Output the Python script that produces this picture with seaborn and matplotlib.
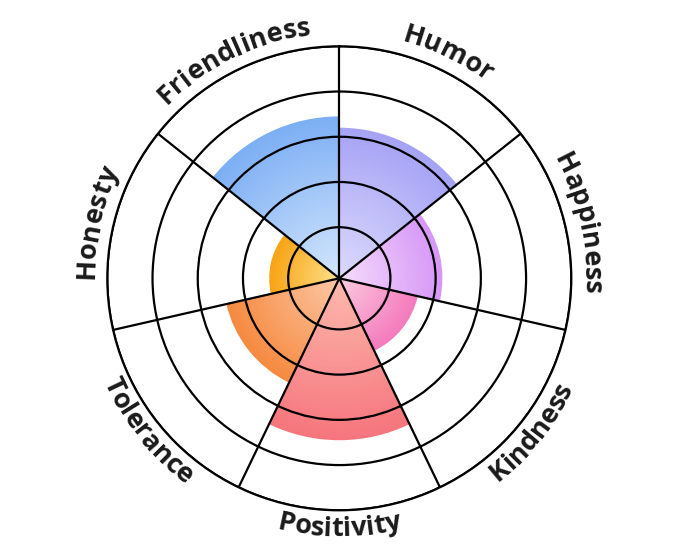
import numpy as np
import seaborn as sns
import matplotlib as mpl
import matplotlib.pyplot as plt
from matplotlib.font_manager import FontProperties, findfont, get_font
mpl.use('Agg')

# ---------------------------------------------------------- data
categories = ['Humor', 'Happiness', 'Kindness', 'Positivity',
              'Tolerance', 'Honesty', 'Friendliness']
scores = [3.2, 2.15, 1.65, 3.45, 2.43, 1.42, 3.45]
ring_ticks = [1, 2, 3, 4, 5]

# light centre -> saturated edge for each sector
inner_colors = ['#dcdafc', '#f5dcfc', '#fbcbe0', '#fcb9ad', '#fcc7a5', '#fde08a', '#d3e6fd']
outer_colors = ['#a6a3f5', '#d697f6', '#f47bbd', '#f6767e', '#f68a40', '#f8a414', '#7dafF4']

#----------------------------------------------------------
sns.set_theme(style='white')
plt.rcParams['font.family'] = ['Open Sans', 'DejaVu Sans']

DPI = 100
fig = plt.figure(figsize=(6.8, 5.57), dpi=DPI)
R_PX = 232.0
cx, cy = 339.3, 557 - 278.3
ax = fig.add_axes([(cx - R_PX) / 680, (cy - R_PX) / 557, 2 * R_PX / 680, 2 * R_PX / 557],
                  projection='polar')
ax.set_theta_zero_location('N')
ax.set_theta_direction(-1)

rmin, rmax = -0.13, 5
n = len(categories)
width = 2 * np.pi / n
theta = np.arange(n) * width + width / 2

# radial gradient: stack of bars, largest (darkest) first
n_steps = 60
for i in range(n):
    pal = sns.blend_palette([inner_colors[i], outer_colors[i]], n_steps)
    for k in range(n_steps, 0, -1):
        ax.bar(theta[i], (scores[i] - rmin) * k / n_steps, bottom=rmin, width=width,
               color=pal[k - 1], linewidth=0, zorder=1)

ax.set_ylim(rmin, rmax)
ax.set_yticks(ring_ticks)
ax.set_yticklabels([])
ax.set_xticks(np.arange(n) * width)
ax.set_xticklabels([])
ax.set_axisbelow(False)
ax.grid(True, color='black', linewidth=1.6)
ax.spines['polar'].set_color('black')
ax.spines['polar'].set_linewidth(1.6)
ax.set_facecolor('white')

# curved labels, one character at a time
fs = 19.5
fp = FontProperties(family='Open Sans', weight='bold', size=fs)
font = get_font(findfont(fp))
font.set_size(fs, 72)

for i, label in enumerate(categories):
    adv = [font.load_char(ord(c)).linearHoriAdvance / 65536 * DPI / 72 for c in label]
    total = sum(adv)
    ang_c = theta[i]
    flip = np.pi / 2 < ang_c < 3 * np.pi / 2
    r_base = 258.0 if flip else 245.0
    pos = -total / 2
    for c, a in zip(label, adv):
        s = pos + a / 2
        pos += a
        if flip:
            ang = ang_c - s / r_base
            rot = 180 - np.degrees(ang)
        else:
            ang = ang_c + s / r_base
            rot = -np.degrees(ang)
        x = 0.5 + r_base / (2 * R_PX) * np.sin(ang)
        y = 0.5 + r_base / (2 * R_PX) * np.cos(ang)
        ax.text(x, y, c, transform=ax.transAxes, fontproperties=fp, color='#1a1a1a',
                rotation=rot, rotation_mode='anchor', ha='center', va='baseline',
                clip_on=False)

fig.savefig('out.png', dpi=DPI)
plt.close(fig)
